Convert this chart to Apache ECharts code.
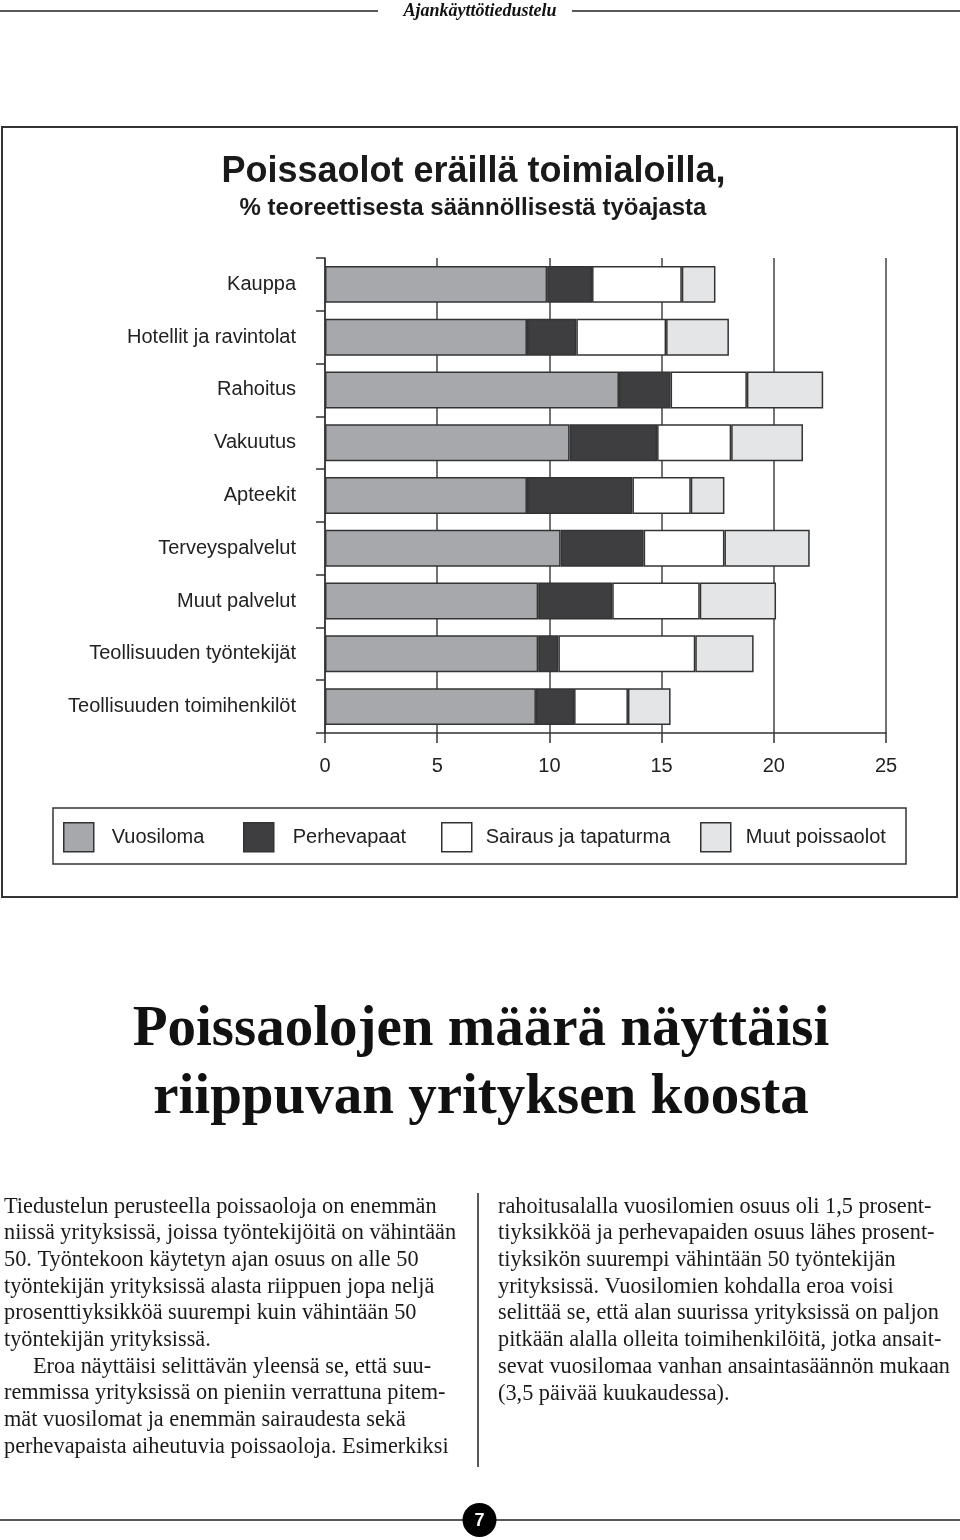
<!DOCTYPE html>
<html>
<head>
<meta charset="utf-8">
<script src="https://cdn.jsdelivr.net/npm/echarts@6/dist/echarts.min.js"></script>
<style>
html,body{margin:0;padding:0;background:#fff;}
#c{width:960px;height:1540px;}
</style>
</head>
<body>
<div id="c"></div>
<script>
var categories = ['Kauppa','Hotellit ja ravintolat','Rahoitus','Vakuutus','Apteekit','Terveyspalvelut','Muut palvelut','Teollisuuden työntekijät','Teollisuuden toimihenkilöt'];
var seriesNames = ['Vuosiloma','Perhevapaat','Sairaus ja tapaturma','Muut poissaolot'];
var vuosiloma = [9.9, 9.0, 13.1, 10.9, 9.0, 10.5, 9.5, 9.5, 9.4];
var perhevapaat = [2.0, 2.2, 2.3, 3.9, 4.7, 3.7, 3.3, 0.9, 1.7];
var sairaus = [4.0, 4.0, 3.4, 3.3, 2.6, 3.6, 3.9, 6.1, 2.4];
var muut = [1.5, 2.8, 3.4, 3.2, 1.5, 3.8, 3.4, 2.6, 1.9];
var xTicks = [0, 5, 10, 15, 20, 25];

var titleLine1 = 'Poissaolot eräillä toimialoilla,';
var titleLine2 = '% teoreettisesta säännöllisestä työajasta';
var headerText = 'Ajankäyttötiedustelu';
var headingLines = ['Poissaolojen määrä näyttäisi', 'riippuvan yrityksen koosta'];
var leftCol = [
  'Tiedustelun perusteella poissaoloja on enemmän',
  'niissä yrityksissä, joissa työntekijöitä on vähintään',
  '50. Työntekoon käytetyn ajan osuus on alle 50',
  'työntekijän yrityksissä alasta riippuen jopa neljä',
  'prosenttiyksikköä suurempi kuin vähintään 50',
  'työntekijän yrityksissä.',
  'Eroa näyttäisi selittävän yleensä se, että suu-',
  'remmissa yrityksissä on pieniin verrattuna pitem-',
  'mät vuosilomat ja enemmän sairaudesta sekä',
  'perhevapaista aiheutuvia poissaoloja. Esimerkiksi'
];
var rightCol = [
  'rahoitusalalla vuosilomien osuus oli 1,5 prosent-',
  'tiyksikköä ja perhevapaiden osuus lähes prosent-',
  'tiyksikön suurempi vähintään 50 työntekijän',
  'yrityksissä. Vuosilomien kohdalla eroa voisi',
  'selittää se, että alan suurissa yrityksissä on paljon',
  'pitkään alalla olleita toimihenkilöitä, jotka ansait-',
  'sevat vuosilomaa vanhan ansaintasäännön mukaan',
  '(3,5 päivää kuukaudessa).'
];
var pageNumber = '7';

var colors = ['#a7a8ab', '#3e3e40', '#ffffff', '#e4e5e6'];
var dataSets = [vuosiloma, perhevapaat, sairaus, muut];
var legendLeft = [63, 243, 441, 700];
var legendTextPad = [13, 14, 9, 10];

var chart = echarts.init(document.getElementById('c'), null, {renderer: 'canvas', width: 960, height: 1540});

var series = dataSets.map(function (d, i) {
  return {
    name: seriesNames[i],
    type: 'bar',
    stack: 'total',
    data: d,
    barCategoryGap: '30%',
    itemStyle: {color: colors[i], borderColor: '#333', borderWidth: 1.5},
    emphasis: {disabled: true},
    silent: true
  };
});

var legends = seriesNames.map(function (n, i) {
  return {
    data: [n],
    left: legendLeft[i], top: 822, padding: 0,
    itemWidth: 30, itemHeight: 29,
    icon: 'rect',
    itemStyle: {borderColor: '#333', borderWidth: 1.5},
    textStyle: {fontSize: 20, color: '#222', fontFamily: '"Liberation Sans", Arial, sans-serif', padding: [3, 0, 0, legendTextPad[i]]},
    selectedMode: false
  };
});

var g = [];
var serif = '"Liberation Serif", "Times New Roman", serif';
var sans = '"Liberation Sans", Arial, sans-serif';
// header
g.push({type: 'line', shape: {x1: 0, y1: 11, x2: 378, y2: 11}, style: {stroke: '#222', lineWidth: 1.5}});
g.push({type: 'line', shape: {x1: 572, y1: 11, x2: 960, y2: 11}, style: {stroke: '#222', lineWidth: 1.5}});
g.push({type: 'text', x: 480, y: 11, style: {text: headerText, fill: '#111', font: 'italic bold 18px ' + serif, textAlign: 'center', textVerticalAlign: 'middle'}});
// outer box
g.push({type: 'rect', shape: {x: 2, y: 127, width: 955, height: 770}, style: {fill: 'none', stroke: '#333', lineWidth: 2}, z: -1});
// titles
g.push({type: 'text', x: 473.5, y: 172, style: {text: titleLine1, fill: '#1a1a1a', font: 'bold 36px ' + sans, textAlign: 'center', textVerticalAlign: 'middle'}});
g.push({type: 'text', x: 473, y: 208, style: {text: titleLine2, fill: '#1a1a1a', font: 'bold 24px ' + sans, textAlign: 'center', textVerticalAlign: 'middle'}});
// legend box
g.push({type: 'rect', shape: {x: 53, y: 808, width: 853, height: 56}, style: {fill: 'none', stroke: '#333', lineWidth: 1.5}});
// heading
g.push({type: 'text', x: 481, y: 1030, style: {text: headingLines[0], fill: '#111', font: 'bold 57px ' + serif, textAlign: 'center', textVerticalAlign: 'middle'}});
g.push({type: 'text', x: 481, y: 1098, style: {text: headingLines[1], fill: '#111', font: 'bold 57px ' + serif, textAlign: 'center', textVerticalAlign: 'middle'}});
// body
var leftY = [1207, 1233, 1260, 1287, 1313, 1340, 1367, 1393, 1420, 1447];
leftCol.forEach(function (t, i) {
  g.push({type: 'text', x: i === 6 ? 33 : 4, y: leftY[i], style: {text: t, fill: '#1a1a1a', font: '22.3px ' + serif, textAlign: 'left', textVerticalAlign: 'middle'}});
});
var rightY = [1207, 1233, 1260, 1287, 1313, 1340, 1367, 1394];
rightCol.forEach(function (t, i) {
  g.push({type: 'text', x: 498, y: rightY[i], style: {text: t, fill: '#1a1a1a', font: '22.3px ' + serif, textAlign: 'left', textVerticalAlign: 'middle'}});
});
g.push({type: 'line', shape: {x1: 478, y1: 1193, x2: 478, y2: 1467}, style: {stroke: '#222', lineWidth: 1.5}});
// footer
g.push({type: 'line', shape: {x1: 0, y1: 1520, x2: 960, y2: 1520}, style: {stroke: '#222', lineWidth: 1.5}});
g.push({type: 'circle', shape: {cx: 479.5, cy: 1520, r: 17}, style: {fill: '#000'}});
g.push({type: 'text', x: 479.5, y: 1521, style: {text: pageNumber, fill: '#fff', font: 'bold 18px ' + sans, textAlign: 'center', textVerticalAlign: 'middle'}});

chart.setOption({
  animation: false,
  backgroundColor: '#fff',
  grid: {left: 325, right: 74, top: 258, bottom: 807, containLabel: false},
  legend: legends,
  xAxis: {
    type: 'value', min: xTicks[0], max: xTicks[xTicks.length - 1], interval: 5,
    axisLine: {show: true, lineStyle: {color: '#333', width: 1.5}},
    axisTick: {show: true, length: 10, lineStyle: {color: '#333', width: 1.5}},
    axisLabel: {fontSize: 20, color: '#222', margin: 23, fontFamily: sans},
    splitLine: {show: true, lineStyle: {color: '#444', width: 1.5}}
  },
  yAxis: {
    type: 'category', data: categories, inverse: true,
    axisLine: {show: true, lineStyle: {color: '#333', width: 1.5}},
    axisTick: {show: true, length: 9, alignWithLabel: false, lineStyle: {color: '#333', width: 1.5}},
    axisLabel: {fontSize: 20, color: '#222', margin: 29, fontFamily: sans},
    splitLine: {show: false}
  },
  series: series,
  graphic: g
});
</script>
</body>
</html>
